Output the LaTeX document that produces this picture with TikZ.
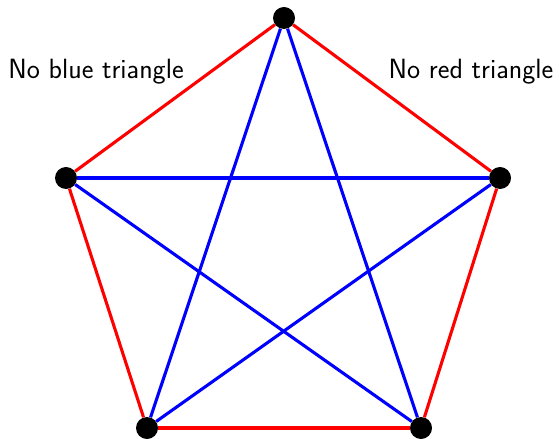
\documentclass[tikz,border=0pt]{standalone}
\usetikzlibrary{backgrounds}
\begin{document}
\begin{tikzpicture}[x=0.025cm, y=-0.025cm]
\tikzset{vertex/.style={circle, fill=black, inner sep=0pt, minimum size=0.55cm}}
\tikzset{redge/.style={red, line width=2.2pt}}
\tikzset{bedge/.style={blue, line width=2.2pt}}
\tikzset{lbl/.style={font=\sffamily\fontsize{19.8}{23}\selectfont}}
\useasboundingbox (0,0) rectangle (559,439);
\node[vertex] (top) at (284,18) {};
\node[vertex] (left) at (66,178) {};
\node[vertex] (right) at (500,178) {};
\node[vertex] (botleft) at (147,428) {};
\node[vertex] (botright) at (421,428) {};
\node[lbl] (noblue) at (96,72) {No blue triangle};
\node[lbl] (nored) at (471,72) {No red triangle};
\begin{pgfonlayer}{background}
\draw[redge] (top) -- (right);
\draw[redge] (right) -- (botright);
\draw[redge] (botright) -- (botleft);
\draw[redge] (botleft) -- (left);
\draw[redge] (left) -- (top);
\draw[bedge] (top) -- (botleft);
\draw[bedge] (top) -- (botright);
\draw[bedge] (left) -- (right);
\draw[bedge] (left) -- (botright);
\draw[bedge] (right) -- (botleft);
\end{pgfonlayer}
\end{tikzpicture}
\end{document}
